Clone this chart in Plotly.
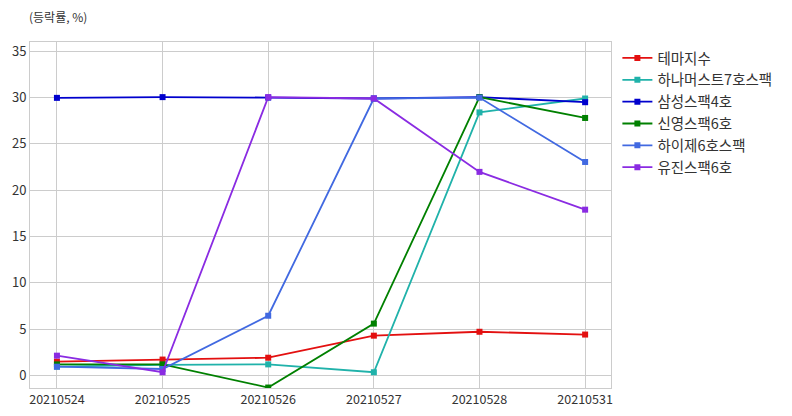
import plotly.graph_objects as go

dates = ["20210524", "20210525", "20210526", "20210527", "20210528", "20210531"]
series_names = ["테마지수", "하나머스트7호스팩", "삼성스팩4호", "신영스팩6호", "하이제6호스팩", "유진스팩6호"]
theme_index = [1.49, 1.72, 1.92, 4.3, 4.72, 4.42]
hana7 = [0.95, 1.15, 1.2, 0.35, 28.4, 29.9]
samsung4 = [29.97, 30.05, 30.0, 29.9, 30.05, 29.5]
shinyoung6 = [1.2, 1.2, -1.3, 5.6, 30.05, 27.8]
hi6 = [0.95, 0.7, 6.45, 29.9, 30.0, 23.05]
yujin6 = [2.14, 0.35, 30.05, 29.9, 21.98, 17.9]
values = [theme_index, hana7, samsung4, shinyoung6, hi6, yujin6]
colors = ["#e31010", "#20b2aa", "#0000cd", "#008000", "#4169e1", "#8a2be2"]

y_ticks = [0, 5, 10, 15, 20, 25, 30, 35]

fig = go.Figure()
for name, vals, c in zip(series_names, values, colors):
    fig.add_trace(go.Scatter(
        x=list(range(len(dates))), y=vals, name=name, mode="lines+markers",
        line=dict(color=c, width=1.8),
        marker=dict(symbol="square", size=6, color=c),
    ))

fig.update_layout(
    width=792, height=416,
    margin=dict(l=22, r=189, t=34, b=36, autoexpand=False),
    paper_bgcolor="white", plot_bgcolor="white",
    font=dict(family="Noto Sans CJK KR", size=12, color="#333333"),
    showlegend=True,
    legend=dict(x=1.011, y=1.0, xanchor="left", yanchor="top",
                font=dict(size=14.5, color="#333333"), tracegroupgap=0,
                bgcolor="rgba(0,0,0,0)"),
)
fig.layout.annotations = [dict(text="(등락률, %)", xref="paper", yref="paper",
                               x=0, y=1.0, xshift=-3, yshift=26, xanchor="left", yanchor="middle",
                               showarrow=False, font=dict(size=12, color="#333333"))]
fig.update_xaxes(
    range=[-0.255, 5.245], tickmode="array", tickvals=list(range(len(dates))), ticktext=dates,
    showgrid=True, gridcolor="#cccccc", gridwidth=1, zeroline=False,
    showline=True, linecolor="#cccccc", mirror=True, ticks="", tickfont=dict(size=12.5),
)
fig.update_yaxes(
    range=[-1.35, 36.0], tickmode="array", tickvals=y_ticks,
    showgrid=True, gridcolor="#cccccc", gridwidth=1, zeroline=False,
    showline=True, linecolor="#cccccc", mirror=True, ticks="", tickfont=dict(size=13),
)
fig.write_html("out.html")
